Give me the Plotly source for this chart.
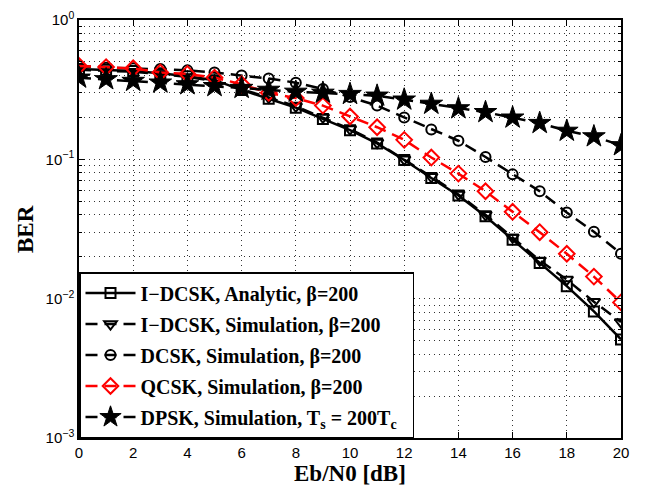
import plotly.graph_objects as go

snr_db = list(range(0, 21))

idcsk_analytic = [0.445, 0.44, 0.43, 0.415, 0.395, 0.37, 0.315, 0.272, 0.235, 0.195, 0.162,
                  0.13, 0.099, 0.0735, 0.055, 0.039, 0.0265, 0.018, 0.0123, 0.0081, 0.0051]
idcsk_sim = [0.44, 0.435, 0.425, 0.41, 0.39, 0.365, 0.32, 0.278, 0.24, 0.2, 0.165,
             0.132, 0.1, 0.075, 0.056, 0.04, 0.0275, 0.0188, 0.0137, 0.0095, 0.0068]
dcsk_sim = [0.467, 0.455, 0.45, 0.445, 0.435, 0.42, 0.40, 0.38, 0.355, 0.32, 0.28,
            0.243, 0.2, 0.164, 0.136, 0.104, 0.078, 0.059, 0.0415, 0.0302, 0.021]
qcsk_sim = [0.467, 0.459, 0.45, 0.42, 0.41, 0.386, 0.346, 0.30, 0.275, 0.243, 0.203,
            0.17, 0.138, 0.103, 0.079, 0.059, 0.042, 0.03, 0.021, 0.0144, 0.0094]
dpsk_sim = [0.385, 0.375, 0.365, 0.355, 0.345, 0.335, 0.325, 0.315, 0.305, 0.3, 0.294,
            0.286, 0.268, 0.25, 0.232, 0.218, 0.199, 0.182, 0.16, 0.146, 0.126]

series_names = [
    "I\u2212DCSK, Analytic, \u03b2=200",
    "I\u2212DCSK, Simulation, \u03b2=200",
    "DCSK, Simulation, \u03b2=200",
    "QCSK, Simulation, \u03b2=200",
    "DPSK, Simulation, T<sub>s</sub> = 200T<sub>c</sub>\u00a0\u00a0",
]

x_title = "Eb/N0 [dB]"
y_title = "BER"

y_tick_vals = [1e-3, 1e-2, 1e-1, 1]
y_tick_text = ["10<sup>\u22123</sup>", "10<sup>\u22122</sup>", "10<sup>\u22121</sup>", "10<sup>0</sup>"]

DASH = "12px,7px"
SERIF = "Liberation Serif, Times New Roman, serif"
GRID = "#333333"
GRIDDASH = "1px,4px"

fig = go.Figure()

styles = [
    (idcsk_analytic, "black", "solid", "square-open", 10, 2),
    (idcsk_sim, "black", DASH, "triangle-down-open", 11, 2),
    (dcsk_sim, "black", DASH, "circle-open", 10, 2),
    (qcsk_sim, "red", DASH, "diamond-open", 12, 2),
    (dpsk_sim, "black", DASH, "star", 17, 1),
]

for i, ((vals, col, dash, sym, size, mlw), name) in enumerate(zip(styles, series_names)):
    fig.add_trace(go.Scatter(
        x=snr_db, y=vals, name=name, mode="lines+markers", legendgroup=f"g{i}",
        line=dict(color=col, width=2.5, dash=dash),
        marker=dict(symbol=sym, size=size, color=col, line=dict(color=col, width=mlw)),
    ))

# The page body adds an 8px offset, so margins are set to compensate.
fig.update_layout(
    width=650, height=487,
    margin=dict(l=71, r=37, t=12, b=57),
    paper_bgcolor="white", plot_bgcolor="white",
    font=dict(family="Liberation Sans, Arial, sans-serif", size=15, color="black"),
    legend=dict(
        x=0, y=0, xanchor="left", yanchor="bottom",
        bgcolor="white", bordercolor="black", borderwidth=1.5,
        font=dict(family=SERIF, size=20, color="black", weight="bold"),
        itemwidth=50, tracegroupgap=2,
    ),
    showlegend=True,
    annotations=[
        dict(text=x_title, xref="paper", yref="paper", x=0.5, y=-0.084,
             xanchor="center", yanchor="middle", showarrow=False,
             font=dict(family=SERIF, size=23, color="black", weight="bold")),
        dict(text=y_title, xref="paper", yref="paper", x=-0.0996, y=0.5,
             xanchor="center", yanchor="middle", showarrow=False, textangle=-90,
             font=dict(family=SERIF, size=23, color="black", weight="bold")),
    ],
)

fig.update_xaxes(
    range=[0, 20], dtick=2, tick0=0, automargin=False,
    showline=True, linecolor="black", linewidth=1.5, mirror="ticks",
    ticks="inside", ticklen=6, tickcolor="black",
    showgrid=True, gridcolor=GRID, griddash=GRIDDASH, gridwidth=1,
    zeroline=False, ticklabeloverflow="allow",
)

fig.update_yaxes(
    type="log", range=[-3, 0], automargin=False,
    tickvals=y_tick_vals, ticktext=y_tick_text,
    showline=True, linecolor="black", linewidth=1.5, mirror="ticks",
    ticks="inside", ticklen=6, tickcolor="black",
    showgrid=True, gridcolor=GRID, griddash=GRIDDASH, gridwidth=1,
    zeroline=False, ticklabeloverflow="allow",
    minor=dict(dtick="D1", ticks="inside", ticklen=3, tickcolor="black",
               showgrid=True, gridcolor=GRID, griddash=GRIDDASH, gridwidth=1),
)

fig.write_html("out.html")
